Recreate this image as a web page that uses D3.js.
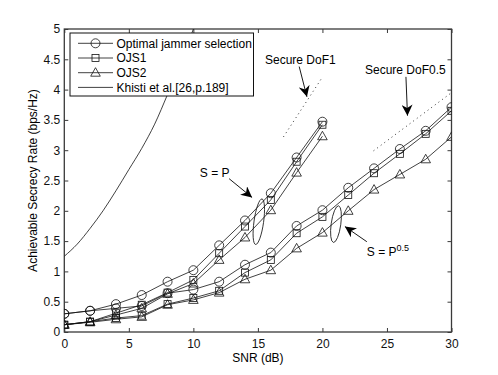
<!DOCTYPE html>
<html>
<head>
<meta charset="utf-8">
<script src="https://cdn.jsdelivr.net/npm/d3@7"></script>
<style>
  body { margin: 0; background: #fff; }
  text { font-family: "Liberation Sans", Arial, sans-serif; }
</style>
</head>
<body>
<div id="chart"></div>
<script>
// SNR grid for the two families
const snrP = [0, 2, 4, 6, 8, 10, 12, 14, 16, 18, 20];
const snrHalf = [0, 2, 4, 6, 8, 10, 12, 14, 16, 18, 20, 22, 24, 26, 28, 30];

// S = P
const optP  = [0.30, 0.35, 0.46, 0.61, 0.83, 1.02, 1.43, 1.84, 2.29, 2.88, 3.47];
const ojs1P = [0.12, 0.17, 0.31, 0.45, 0.65, 0.86, 1.30, 1.74, 2.18, 2.81, 3.42];
const ojs2P = [0.12, 0.17, 0.28, 0.39, 0.63, 0.80, 1.19, 1.56, 2.01, 2.63, 3.23];

// S = P^0.5
const optHalf  = [0.30, 0.35, 0.39, 0.43, 0.64, 0.70, 0.83, 1.11, 1.31, 1.75, 2.01, 2.38, 2.70, 3.02, 3.32, 3.71];
const ojs1Half = [0.12, 0.17, 0.23, 0.27, 0.46, 0.56, 0.68, 0.98, 1.19, 1.63, 1.90, 2.26, 2.62, 2.94, 3.27, 3.65];
const ojs2Half = [0.12, 0.16, 0.21, 0.25, 0.45, 0.53, 0.65, 0.87, 1.02, 1.38, 1.64, 2.00, 2.35, 2.60, 2.85, 3.22];

// Khisti et al. curve
const khSnr  = [0, 1, 2, 3, 4, 5, 6, 7, 8, 9, 10];
const khRate = [1.25, 1.45, 1.71, 2.00, 2.33, 2.68, 3.03, 3.43, 3.92, 4.43, 5.00];

// secure DoF reference lines (dotted)
const dof1 = [[16.98, 3.22], [19.95, 4.19]];
const dofHalf = [[23.96, 2.99], [30, 3.95]];

const xTicks = [0, 5, 10, 15, 20, 25, 30];
const yTicks = [0, 0.5, 1, 1.5, 2, 2.5, 3, 3.5, 4, 4.5, 5];

const legendLabels = ["Optimal jammer selection", "OJS1", "OJS2", "Khisti et al.[26,p.189]"];
const legendMarkers = ["circle", "square", "triangle", "none"];

// set the dimensions and margins of the graph
const W = 498, H = 375;
const margin = {top: 29, right: 46.5, bottom: 43, left: 64.3},
    width = W - margin.left - margin.right,
    height = H - margin.top - margin.bottom;

const svg = d3.select("#chart")
  .append("svg")
    .attr("width", W)
    .attr("height", H)
  .append("g")
    .attr("transform", `translate(${margin.left}, ${margin.top})`);

const x = d3.scaleLinear().domain([0, 30]).range([0, width]);
const y = d3.scaleLinear().domain([0, 5]).range([height, 0]);

svg.append("clipPath").attr("id", "plotclip")
  .append("rect").attr("width", width).attr("height", height);

// axes with inward ticks, MATLAB style box
const axisColor = "#3a3a3a";
function styleAxis(g) {
  g.selectAll(".domain").remove();
  g.selectAll(".tick line").attr("stroke", axisColor);
  g.selectAll("text").style("font-size", "12px").attr("fill", "#111");
}
svg.append("g")
  .attr("transform", `translate(0, ${height})`)
  .call(d3.axisBottom(x).tickValues(xTicks).tickSize(-4).tickPadding(7).tickFormat(d3.format("d")))
  .call(styleAxis);
svg.append("g")
  .call(d3.axisTop(x).tickValues(xTicks).tickSize(-4).tickFormat(""))
  .call(styleAxis);
svg.append("g")
  .call(d3.axisLeft(y).tickValues(yTicks).tickSize(-4).tickPadding(4).tickFormat(d => d))
  .call(styleAxis);
svg.append("g")
  .attr("transform", `translate(${width}, 0)`)
  .call(d3.axisRight(y).tickValues(yTicks).tickSize(-4).tickFormat(""))
  .call(styleAxis);

svg.append("rect")
  .attr("width", width).attr("height", height)
  .attr("fill", "none").attr("stroke", axisColor).attr("stroke-width", 1.3);

// axis labels
svg.append("text")
  .attr("text-anchor", "middle")
  .attr("x", width / 2)
  .attr("y", height + 30)
  .style("font-size", "12px")
  .text("SNR (dB)");
svg.append("text")
  .attr("text-anchor", "middle")
  .attr("transform", `translate(${-27}, ${height / 2}) rotate(-90)`)
  .style("font-size", "12px")
  .text("Achievable Secrecy Rate (bps/Hz)");

// marker drawing
function drawMarker(sel, type) {
  if (type === "circle") {
    sel.append("circle").attr("r", 4.5);
  } else if (type === "square") {
    sel.append("rect").attr("x", -3.5).attr("y", -3.5).attr("width", 7).attr("height", 7);
  } else if (type === "triangle") {
    sel.append("path").attr("d", "M0,-5L4.8,3.5L-4.8,3.5Z");
  }
  sel.selectAll("*").attr("fill", "none").attr("stroke", "#111").attr("stroke-width", 0.8);
}

const line = d3.line().x(d => x(d[0])).y(d => y(d[1]));

const series = [
  {snr: snrP, vals: optP, marker: "circle"},
  {snr: snrP, vals: ojs1P, marker: "square"},
  {snr: snrP, vals: ojs2P, marker: "triangle"},
  {snr: snrHalf, vals: optHalf, marker: "circle"},
  {snr: snrHalf, vals: ojs1Half, marker: "square"},
  {snr: snrHalf, vals: ojs2Half, marker: "triangle"}
];

const plot = svg.append("g").attr("clip-path", "url(#plotclip)");

series.forEach(s => {
  const pts = s.snr.map((d, i) => [d, s.vals[i]]);
  plot.append("path")
    .datum(pts)
    .attr("d", line)
    .attr("fill", "none")
    .attr("stroke", "#111")
    .attr("stroke-width", 0.8);
  plot.selectAll(null)
    .data(pts)
    .enter()
    .append("g")
      .attr("transform", d => `translate(${x(d[0])}, ${y(d[1])})`)
      .each(function() { drawMarker(d3.select(this), s.marker); });
});

// Khisti curve
plot.append("path")
  .datum(khSnr.map((d, i) => [d, khRate[i]]))
  .attr("d", d3.line().curve(d3.curveMonotoneX).x(d => x(d[0])).y(d => y(d[1])))
  .attr("fill", "none")
  .attr("stroke", "#111")
  .attr("stroke-width", 0.8);

// secure DoF dotted lines
[dof1, dofHalf].forEach(seg => {
  plot.append("path")
    .datum(seg)
    .attr("d", line)
    .attr("fill", "none")
    .attr("stroke", "#333")
    .attr("stroke-width", 1)
    .attr("stroke-dasharray", "1,3.5");
});

// arrowheads
svg.append("defs").append("marker")
  .attr("id", "arrow")
  .attr("viewBox", "0 0 10 10")
  .attr("refX", 10).attr("refY", 5)
  .attr("markerWidth", 11).attr("markerHeight", 11)
  .attr("markerUnits", "userSpaceOnUse")
  .attr("orient", "auto")
  .append("path").attr("d", "M0,0L10,5L0,10L3,5Z").attr("fill", "#000");

function arrow(from, to) {
  svg.append("line")
    .attr("x1", x(from[0])).attr("y1", y(from[1]))
    .attr("x2", x(to[0])).attr("y2", y(to[1]))
    .attr("stroke", "#000").attr("stroke-width", 0.9)
    .attr("marker-end", "url(#arrow)");
}
function label(pos, txt) {
  return svg.append("text")
    .attr("x", x(pos[0])).attr("y", y(pos[1]))
    .style("font-size", "12px")
    .text(txt);
}

label([15.55, 4.42], "Secure DoF1");
arrow([18.2, 4.38], [18.8, 3.88]);
label([23.3, 4.25], "Secure DoF0.5");
arrow([26.47, 4.21], [26.59, 3.57]);
label([10.5, 2.56], "S = P");
arrow([12.77, 2.53], [14.55, 2.22]);

const sp = label([23.44, 1.26], "S = P");
sp.append("tspan").attr("dy", -5).style("font-size", "9px").text("0.5");
arrow([23.44, 1.49], [21.74, 1.74]);

// ellipses grouping the curves
[[15.07, 1.82, 23], [21.05, 1.78, 18.5]].forEach(e => {
  svg.append("ellipse")
    .attr("transform", `translate(${x(e[0])}, ${y(e[1])}) rotate(8)`)
    .attr("rx", 4.8).attr("ry", e[2])
    .attr("fill", "none").attr("stroke", "#111").attr("stroke-width", 0.8);
});

// legend
const lg = svg.append("g").attr("transform", `translate(${70 - margin.left}, ${33 - margin.top})`);
lg.append("rect")
  .attr("width", 183.5).attr("height", 63)
  .attr("fill", "#fff").attr("stroke", "#111").attr("stroke-width", 1);
legendLabels.forEach((name, i) => {
  const row = lg.append("g").attr("transform", `translate(0, ${10.3 + i * 14.7})`);
  row.append("line").attr("x1", 8).attr("x2", 43).attr("stroke", "#111").attr("stroke-width", 0.8);
  const m = row.append("g").attr("transform", "translate(25.5, 0)");
  drawMarker(m, legendMarkers[i]);
  row.append("text").attr("x", 46.5).attr("dy", "0.35em").style("font-size", "12px").text(name);
});
</script>
</body>
</html>
